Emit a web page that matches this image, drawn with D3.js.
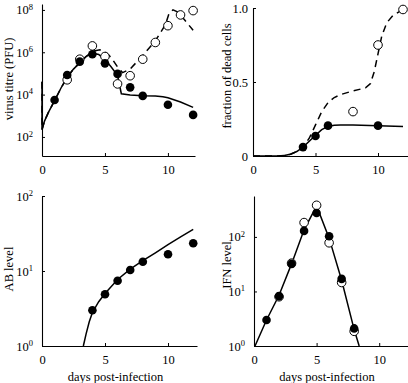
<!DOCTYPE html>
<html>
<head>
<meta charset="utf-8">
<script src="https://cdn.jsdelivr.net/npm/d3@7"></script>
<style>
  body { margin: 0; background: #fff; }
  .axis path, .axis line { stroke: #000; }
</style>
</head>
<body>
<svg id="chart" width="408" height="383"></svg>
<script>
// ---- data ----

// virus titre (PFU)
const virusDaysFilled = [1, 2, 3, 4, 5, 6, 7, 8, 10, 12];
const virusFilled = [5.6e3, 8.5e4, 3.6e5, 8.1e5, 3.0e5, 9.5e4, 2.2e4, 8.7e3, 3.3e3, 1.1e3];
const virusDaysOpen = [2, 3, 4, 5, 6, 7, 8, 9, 10, 11, 12];
const virusOpen = [5.0e4, 4.7e5, 2.0e6, 6.3e5, 3.2e4, 7.8e4, 4.7e5, 2.9e6, 1.8e7, 5.8e7, 9.3e7];
const virusModelDays = [0, 0, 0.2, 0.5, 1, 1.5, 2, 2.5, 3, 3.5, 4, 4.5, 5, 5.5, 6, 6.3, 7, 8, 9, 9.6, 10, 11, 12];
const virusModel = [4.0e4, 2.2e2, 5.6e2, 1.4e3, 5.2e3, 2.0e4, 6.6e4, 1.6e5, 3.2e5, 6.3e5, 9.3e5, 7.9e5, 4.5e5, 2.0e5, 8.0e4, 1.1e4, 9.5e3, 8.9e3, 8.7e3, 7.9e3, 7.1e3, 4.5e3, 2.5e3];
const virusModel2Days = [0, 0, 0.2, 0.5, 1, 1.5, 2, 2.5, 3, 3.5, 4, 4.6, 5, 5.5, 6, 6.4, 7, 8, 9, 9.8, 10.1, 10.4, 10.8, 11.3, 12];
const virusModel2 = [4.0e4, 2.2e2, 5.6e2, 1.4e3, 5.2e3, 2.0e4, 6.6e4, 1.6e5, 3.2e5, 6.3e5, 1.1e6, 1.3e6, 1.05e6, 5.6e5, 2.0e5, 1.1e5, 1.6e5, 7.1e5, 3.5e6, 2.0e7, 7.1e7, 1.0e8, 7.9e7, 3.5e7, 1.1e7];

// fraction of dead cells
const deadDaysFilled = [4, 5, 6, 10];
const deadFilled = [0.06, 0.135, 0.205, 0.205];
const deadDaysOpen = [8, 10, 12];
const deadOpen = [0.30, 0.75, 0.99];
const deadModelDays = [0, 2, 2.5, 3, 3.5, 4, 4.5, 5, 5.5, 6, 6.5, 7, 8, 10, 12];
const deadModel = [0, 0, 0.003, 0.012, 0.03, 0.06, 0.1, 0.14, 0.178, 0.2, 0.208, 0.21, 0.21, 0.205, 0.2];
const deadModel2Days = [0, 2, 2.5, 3, 3.5, 4, 4.5, 5, 5.5, 6, 6.5, 7, 8, 9, 9.4, 9.7, 10, 10.3, 10.7, 11.2, 12];
const deadModel2 = [0, 0, 0.003, 0.012, 0.03, 0.06, 0.12, 0.21, 0.3, 0.36, 0.395, 0.415, 0.44, 0.46, 0.49, 0.57, 0.69, 0.81, 0.9, 0.95, 0.99];

// AB level
const abDays = [4, 5, 6, 7, 8, 10, 12];
const abFilled = [3.0, 4.9, 7.4, 10.3, 13.3, 16.7, 23.4];
const abModelDays = [3.28, 3.5, 3.75, 4, 4.5, 5, 6, 7, 8, 9, 10, 11, 12];
const abModel = [1, 1.45, 2.1, 2.8, 3.9, 5.0, 7.7, 10.6, 13.7, 17.5, 22.5, 28.5, 36];

// IFN level
const ifnDaysFilled = [1, 2, 3, 4, 5, 6, 7, 8];
const ifnFilled = [3.0, 8.2, 32, 129, 275, 103, 17, 2.1];
const ifnDaysOpen = [2, 3, 4, 5, 6, 7, 8];
const ifnOpen = [8.0, 33, 183, 380, 78, 14.6, 1.86];
const ifnModelDays = [0.08, 1, 2, 3, 4, 5, 6, 7, 8, 8.4];
const ifnModel = [1, 3.0, 8.5, 32, 135, 370, 95, 16, 2.0, 1];

const xTicks = [0, 5, 10];

const FONT = "Liberation Serif";
const svg = d3.select("#chart").attr("font-family", FONT);
const zip = (xs, ys) => xs.map((d, i) => [d, ys[i]]);

function styleTicks(g) {
  g.attr("font-family", FONT).attr("font-size", 12.5);
  g.selectAll(".tick text").attr("fill", "#000");
}

// 10^n labels with a raised exponent
function superLabel(g) {
  g.selectAll(".tick text").each(function(d) {
    const t = d3.select(this);
    const e = Math.round(Math.log10(d));
    t.text("10");
    t.append("tspan").attr("font-size", "8.5px").attr("dy", "-0.55em").text(e);
  });
}

function panel(p) {
  const x = d3.scaleLinear().domain([0, p.xMax]).range([p.left, p.right]);
  const y = (p.log ? d3.scaleLog() : d3.scaleLinear()).domain(p.yDomain).range([p.bottom, p.top]);
  const line = d3.line().x(d => x(d[0])).y(d => y(d[1]));

  svg.append("g").attr("class", "axis")
    .attr("transform", `translate(0,${p.bottom})`)
    .call(d3.axisBottom(x).tickValues(xTicks).tickSizeInner(-3).tickSizeOuter(0).tickPadding(9).tickFormat(d3.format("d")))
    .call(styleTicks)
    .call(g => g.select(".domain").attr("stroke-width", 1.1));

  const ya = svg.append("g").attr("class", "axis")
    .attr("transform", `translate(${p.left},0)`)
    .call(d3.axisLeft(y).tickValues(p.yTicks).tickSizeInner(-3).tickSizeOuter(0).tickPadding(p.yPad || 9)
      .tickFormat(p.log ? (d => d) : p.yFormat))
    .call(styleTicks)
    .call(g => g.select(".domain").attr("stroke-width", 1.1));
  if (p.log) ya.call(superLabel);

  (p.lines || []).forEach(l => {
    svg.append("path")
      .datum(zip(l.x, l.y))
      .attr("fill", "none")
      .attr("stroke", "#000")
      .attr("stroke-width", 1.5)
      .attr("stroke-dasharray", l.dashed ? "7,5" : null)
      .attr("d", line);
  });

  (p.open || []).forEach(s => {
    svg.append("g").selectAll("circle")
      .data(zip(s.x, s.y)).enter().append("circle")
      .attr("cx", d => x(d[0])).attr("cy", d => y(d[1])).attr("r", 4.3)
      .attr("fill", "#fff").attr("stroke", "#000").attr("stroke-width", 1);
  });
  (p.filled || []).forEach(s => {
    svg.append("g").selectAll("circle")
      .data(zip(s.x, s.y)).enter().append("circle")
      .attr("cx", d => x(d[0])).attr("cy", d => y(d[1])).attr("r", 4.3)
      .attr("fill", "#000");
  });

  svg.append("text")
    .attr("font-size", 12.5)
    .attr("text-anchor", "middle")
    .attr("transform", `translate(${p.yLabelX},${p.yLabelY}) rotate(-90)`)
    .attr("dy", "0.35em")
    .text(p.yLabel);

  if (p.xLabel) {
    svg.append("text")
      .attr("font-size", 12.5)
      .attr("text-anchor", "middle")
      .attr("x", (p.left + p.right) / 2 - 4)
      .attr("y", 381)
      .text(p.xLabel);
  }
}

panel({
  left: 42, right: 195, top: 4, bottom: 156, xMax: 12.15,
  log: true, yDomain: [Math.pow(10, 1.1), Math.pow(10, 8.28)], yTicks: [1e2, 1e4, 1e6, 1e8],
  yLabel: "virus titre (PFU)", yLabelX: 9, yLabelY: 79,
  lines: [{ x: virusModelDays, y: virusModel }, { x: virusModel2Days, y: virusModel2, dashed: true }],
  open: [{ x: virusDaysOpen, y: virusOpen }],
  filled: [{ x: virusDaysFilled, y: virusFilled }]
});

panel({
  left: 253, right: 408, top: 8, bottom: 156, xMax: 12.4,
  log: false, yDomain: [0, 1.0], yTicks: [0, 0.5, 1.0], yPad: 5,
  yFormat: d => d === 0 ? "0" : d3.format(".1f")(d),
  yLabel: "fraction of dead cells", yLabelX: 227, yLabelY: 76,
  lines: [{ x: deadModelDays, y: deadModel }, { x: deadModel2Days, y: deadModel2, dashed: true }],
  open: [{ x: deadDaysOpen, y: deadOpen }],
  filled: [{ x: deadDaysFilled, y: deadFilled }]
});

panel({
  left: 42, right: 197, top: 196, bottom: 346, xMax: 12.3,
  log: true, yDomain: [1, 100], yTicks: [1, 10, 100],
  yLabel: "AB level", yLabelX: 9, yLabelY: 269, xLabel: "days post-infection",
  lines: [{ x: abModelDays, y: abModel }],
  filled: [{ x: abDays, y: abFilled }]
});

panel({
  left: 254, right: 408, top: 196, bottom: 346, xMax: 12.3,
  log: true, yDomain: [1, Math.pow(10, 2.75)], yTicks: [1, 10, 100],
  yLabel: "IFN level", yLabelX: 227, yLabelY: 265, xLabel: "days post-infection",
  lines: [{ x: ifnModelDays, y: ifnModel }],
  open: [{ x: ifnDaysOpen, y: ifnOpen }],
  filled: [{ x: ifnDaysFilled, y: ifnFilled }]
});
</script>
</body>
</html>
